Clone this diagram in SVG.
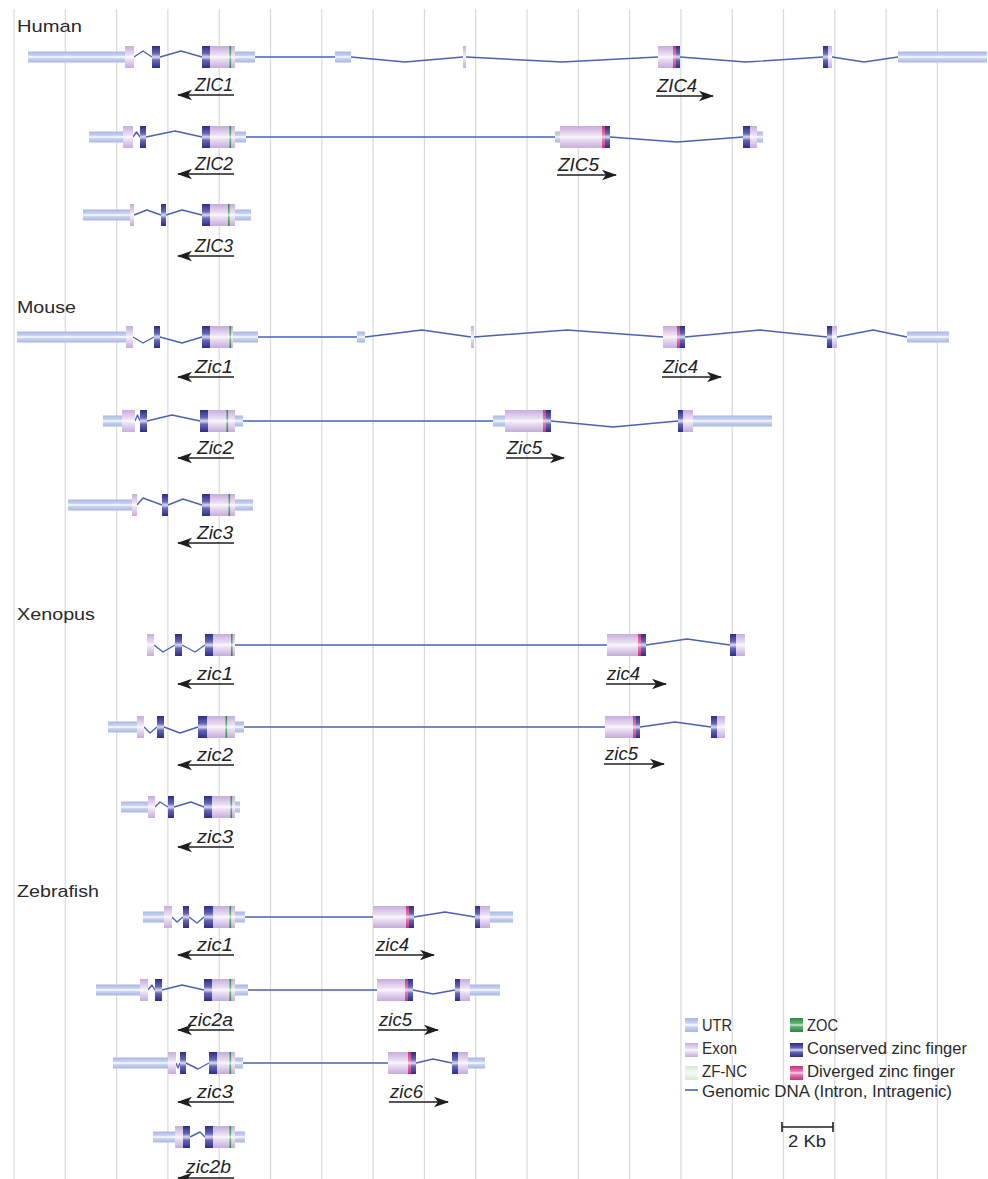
<svg xmlns="http://www.w3.org/2000/svg" width="988" height="1179" viewBox="0 0 988 1179">
<defs>
<linearGradient id="gU" x1="0" y1="0" x2="0" y2="1">
<stop offset="0" stop-color="#a7b6e4"/><stop offset="0.36" stop-color="#c9d3f1"/><stop offset="0.5" stop-color="#ffffff"/><stop offset="0.64" stop-color="#c9d3f1"/><stop offset="1" stop-color="#a7b6e4"/>
</linearGradient>
<linearGradient id="gE" x1="0" y1="0" x2="0" y2="1">
<stop offset="0" stop-color="#c5addb"/><stop offset="0.4" stop-color="#ebe0f3"/><stop offset="0.5" stop-color="#fcf9fd"/><stop offset="0.6" stop-color="#ebe0f3"/><stop offset="1" stop-color="#c5addb"/>
</linearGradient>
<linearGradient id="gC" x1="0" y1="0" x2="0" y2="1">
<stop offset="0" stop-color="#2c2c86"/><stop offset="0.35" stop-color="#6767b6"/><stop offset="0.5" stop-color="#dcdcf2"/><stop offset="0.65" stop-color="#6767b6"/><stop offset="1" stop-color="#2c2c86"/>
</linearGradient>
<linearGradient id="gD" x1="0" y1="0" x2="0" y2="1">
<stop offset="0" stop-color="#c72f7c"/><stop offset="0.38" stop-color="#e47ab0"/><stop offset="0.5" stop-color="#f8d6e8"/><stop offset="0.62" stop-color="#e47ab0"/><stop offset="1" stop-color="#c72f7c"/>
</linearGradient>
<linearGradient id="gZ" x1="0" y1="0" x2="0" y2="1">
<stop offset="0" stop-color="#2a8a3c"/><stop offset="0.38" stop-color="#5fb06e"/><stop offset="0.5" stop-color="#cfead4"/><stop offset="0.62" stop-color="#5fb06e"/><stop offset="1" stop-color="#2a8a3c"/>
</linearGradient>
<linearGradient id="gN" x1="0" y1="0" x2="0" y2="1">
<stop offset="0" stop-color="#d5e8d2"/><stop offset="0.5" stop-color="#f6fbf5"/><stop offset="1" stop-color="#d5e8d2"/>
</linearGradient>
<marker id="ah" viewBox="0 -6 15 12" refX="14" refY="0" markerWidth="15" markerHeight="12" markerUnits="userSpaceOnUse" orient="auto">
<path d="M15,0 L0,-5.2 L4,0 L0,5.2 Z" fill="#1e1e1e"/>
</marker>
</defs>
<style>
.grid line{stroke:#d9d9d9;stroke-width:1.2}
.u{fill:url(#gU)}
.e{fill:url(#gE)}
.c{fill:url(#gC)}
.d{fill:url(#gD)}
.z{fill:url(#gZ)}
.n{fill:url(#gN)}
.i{fill:none;stroke:#4a62b4;stroke-width:1.4;stroke-linejoin:round}
.ar{stroke:#1e1e1e;stroke-width:1.6;marker-end:url(#ah)}
.lb{font-family:"Liberation Sans",Arial,sans-serif;font-style:italic;font-size:18px;fill:#222}
.lbr{font-family:"Liberation Sans",Arial,sans-serif;font-style:italic;font-size:18px;fill:#222;text-anchor:end}
.ttl{font-family:"Liberation Sans",Arial,sans-serif;font-size:17px;fill:#2a2a2a}
.lg{font-family:"Liberation Sans",Arial,sans-serif;font-size:16px;fill:#2a2a2a}
</style>
<rect width="988" height="1179" fill="#ffffff"/>
<g class="grid" id="grid">
<line x1="14" y1="9" x2="14" y2="1179"/>
<line x1="65.3" y1="9" x2="65.3" y2="1179"/>
<line x1="116.6" y1="9" x2="116.6" y2="1179"/>
<line x1="167.9" y1="9" x2="167.9" y2="1179"/>
<line x1="219.2" y1="9" x2="219.2" y2="1179"/>
<line x1="270.5" y1="9" x2="270.5" y2="1179"/>
<line x1="321.8" y1="9" x2="321.8" y2="1179"/>
<line x1="373.1" y1="9" x2="373.1" y2="1179"/>
<line x1="424.4" y1="9" x2="424.4" y2="1179"/>
<line x1="475.7" y1="9" x2="475.7" y2="1179"/>
<line x1="527" y1="9" x2="527" y2="1179"/>
<line x1="578.3" y1="9" x2="578.3" y2="1179"/>
<line x1="629.6" y1="9" x2="629.6" y2="1179"/>
<line x1="680.9" y1="9" x2="680.9" y2="1179"/>
<line x1="732.2" y1="9" x2="732.2" y2="1179"/>
<line x1="783.5" y1="9" x2="783.5" y2="1179"/>
<line x1="834.8" y1="9" x2="834.8" y2="1179"/>
<line x1="886.1" y1="9" x2="886.1" y2="1179"/>
<line x1="937.4" y1="9" x2="937.4" y2="1179"/>
</g>

<g id="titles">
<text class="ttl" x="17" y="32" textLength="65" lengthAdjust="spacingAndGlyphs">Human</text>
<text class="ttl" x="17" y="313" textLength="59" lengthAdjust="spacingAndGlyphs">Mouse</text>
<text class="ttl" x="17" y="620" textLength="78" lengthAdjust="spacingAndGlyphs">Xenopus</text>
<text class="ttl" x="17" y="897" textLength="82" lengthAdjust="spacingAndGlyphs">Zebrafish</text>
</g>

<!-- HUMAN -->
<g id="human-zic1-zic4" transform="translate(0,57)">
<path class="i" d="M134,0 L143,-6 L152,0 M160,0 L181,-6 L202,0 M255,0 H335 M351,0 L405,5 L463,0 M466,0 L562,5 L658,0 M680,0 L746,5 L823,0 M832,0 L864,5 L898,0"/>
<rect class="u" x="28" y="-5.5" width="97" height="11"/>
<rect class="e" x="125" y="-11" width="9" height="22"/>
<rect class="c" x="152" y="-11" width="8" height="22"/>
<rect class="c" x="202" y="-11" width="8" height="22"/>
<rect class="e" x="210" y="-11" width="25" height="22"/>
<rect class="z" x="229.5" y="-11" width="1.6" height="22"/>
<rect class="u" x="235" y="-5.5" width="20" height="11"/>
<rect class="u" x="335" y="-5.5" width="16" height="11"/>
<rect class="e" x="463" y="-11" width="3" height="22"/>
<rect class="e" x="658" y="-11" width="15" height="22"/>
<rect class="d" x="673" y="-11" width="3" height="22"/>
<rect class="c" x="676" y="-11" width="4" height="22"/>
<rect class="c" x="823" y="-11" width="5" height="22"/>
<rect class="e" x="828" y="-11" width="4" height="22"/>
<rect class="u" x="898" y="-5.5" width="89" height="11"/>
<text class="lbr" x="233" y="34" textLength="38" lengthAdjust="spacingAndGlyphs">ZIC1</text>
<line class="ar" x1="234" y1="38" x2="178" y2="38"/>
<text class="lb" x="657" y="35" textLength="40" lengthAdjust="spacingAndGlyphs">ZIC4</text>
<line class="ar" x1="656" y1="39" x2="713" y2="39"/>
</g>

<g id="human-zic2-zic5" transform="translate(0,137)">
<path class="i" d="M133,0 L136.5,-5 L140,0 M146,0 L175,-6 L202,0 M245,0 H555 M610,0 L677,5 L743,0"/>
<rect class="u" x="89" y="-5.5" width="34" height="11"/>
<rect class="e" x="123" y="-11" width="10" height="22"/>
<rect class="c" x="140" y="-11" width="6" height="22"/>
<rect class="c" x="202" y="-11" width="8" height="22"/>
<rect class="e" x="210" y="-11" width="25" height="22"/>
<rect class="z" x="229.5" y="-11" width="1.6" height="22"/>
<rect class="u" x="235" y="-5.5" width="11" height="11"/>
<rect class="u" x="555" y="-5.5" width="6" height="11"/>
<rect class="e" x="560" y="-11" width="42" height="22"/>
<rect class="d" x="602" y="-11" width="3" height="22"/>
<rect class="c" x="605" y="-11" width="5" height="22"/>
<rect class="c" x="743" y="-11" width="7" height="22"/>
<rect class="e" x="750" y="-11" width="7" height="22"/>
<rect class="u" x="757" y="-5.5" width="6" height="11"/>
<text class="lbr" x="233" y="33" textLength="38" lengthAdjust="spacingAndGlyphs">ZIC2</text>
<line class="ar" x1="234" y1="37" x2="178" y2="37"/>
<text class="lb" x="558" y="34" textLength="41" lengthAdjust="spacingAndGlyphs">ZIC5</text>
<line class="ar" x1="557" y1="38" x2="616" y2="38"/>
</g>

<g id="human-zic3" transform="translate(0,215)">
<path class="i" d="M134,0 L147,-5 L161,0 M166,0 L182,-5 L202,0"/>
<rect class="u" x="83" y="-5.5" width="48" height="11"/>
<rect class="e" x="130" y="-11" width="4" height="22"/>
<rect class="c" x="161" y="-11" width="5" height="22"/>
<rect class="c" x="202" y="-11" width="8" height="22"/>
<rect class="e" x="210" y="-11" width="25" height="22"/>
<rect class="z" x="228" y="-11" width="1.6" height="22"/>
<rect class="u" x="235" y="-5.5" width="16" height="11"/>
<text class="lbr" x="233" y="37" textLength="38" lengthAdjust="spacingAndGlyphs">ZIC3</text>
<line class="ar" x1="234" y1="41" x2="178" y2="41"/>
</g>

<!-- MOUSE -->
<g id="mouse-zic1-zic4" transform="translate(0,337)">
<path class="i" d="M133,0 L143,6 L154,0 M160,0 L182,6 L202,0 M258,0 H357 M365,0 L422,-7 L471,0 M474,0 L567,-7 L663,0 M685,0 L760,-7 L827,0 M837,0 L873,-7 L907,0"/>
<rect class="u" x="17" y="-5.5" width="110" height="11"/>
<rect class="e" x="126" y="-11" width="7" height="22"/>
<rect class="c" x="154" y="-11" width="6" height="22"/>
<rect class="c" x="202" y="-11" width="8" height="22"/>
<rect class="e" x="210" y="-11" width="23" height="22"/>
<rect class="z" x="229.5" y="-11" width="1.6" height="22"/>
<rect class="u" x="233" y="-5.5" width="25" height="11"/>
<rect class="u" x="357" y="-5.5" width="8" height="11"/>
<rect class="e" x="471" y="-11" width="3" height="22"/>
<rect class="e" x="663" y="-11" width="14" height="22"/>
<rect class="d" x="677" y="-11" width="3" height="22"/>
<rect class="c" x="680" y="-11" width="5" height="22"/>
<rect class="c" x="827" y="-11" width="5" height="22"/>
<rect class="e" x="832" y="-11" width="5" height="22"/>
<rect class="u" x="907" y="-5.5" width="42" height="11"/>
<text class="lbr" x="233" y="35.5" textLength="38" lengthAdjust="spacingAndGlyphs">Zic1</text>
<line class="ar" x1="234" y1="40" x2="178" y2="40"/>
<text class="lb" x="663" y="35.5" textLength="35" lengthAdjust="spacingAndGlyphs">Zic4</text>
<line class="ar" x1="662" y1="40" x2="721" y2="40"/>
</g>

<g id="mouse-zic2-zic5" transform="translate(0,421)">
<path class="i" d="M135,0 L137.5,-6 L140,0 M147,0 L172,-6 L200,0 M243,0 H493 M551,0 L613,6 L678,0"/>
<rect class="u" x="103" y="-5.5" width="20" height="11"/>
<rect class="e" x="122" y="-11" width="13" height="22"/>
<rect class="c" x="140" y="-11" width="7" height="22"/>
<rect class="c" x="200" y="-11" width="8" height="22"/>
<rect class="e" x="208" y="-11" width="27" height="22"/>
<rect class="z" x="226.5" y="-11" width="1.6" height="22"/>
<rect class="u" x="235" y="-5.5" width="8" height="11"/>
<rect class="u" x="493" y="-5.5" width="13" height="11"/>
<rect class="e" x="505" y="-11" width="38" height="22"/>
<rect class="d" x="543" y="-11" width="3" height="22"/>
<rect class="c" x="546" y="-11" width="5" height="22"/>
<rect class="c" x="678" y="-11" width="5" height="22"/>
<rect class="e" x="683" y="-11" width="10" height="22"/>
<rect class="u" x="693" y="-5.5" width="79" height="11"/>
<text class="lbr" x="233" y="32.5" textLength="36" lengthAdjust="spacingAndGlyphs">Zic2</text>
<line class="ar" x1="234" y1="37" x2="178" y2="37"/>
<text class="lb" x="507" y="32.5" textLength="35" lengthAdjust="spacingAndGlyphs">Zic5</text>
<line class="ar" x1="506" y1="37" x2="564" y2="37"/>
</g>

<g id="mouse-zic3" transform="translate(0,505)">
<path class="i" d="M137,0 L143,-7 L162,0 M168,0 L183,-6 L202,0"/>
<rect class="u" x="68" y="-5.5" width="64" height="11"/>
<rect class="e" x="132" y="-11" width="5" height="22"/>
<rect class="c" x="162" y="-11" width="6" height="22"/>
<rect class="c" x="202" y="-11" width="8" height="22"/>
<rect class="e" x="210" y="-11" width="25" height="22"/>
<rect class="z" x="228.5" y="-11" width="1.6" height="22"/>
<rect class="u" x="235" y="-5.5" width="18" height="11"/>
<text class="lbr" x="233" y="33.5" textLength="36" lengthAdjust="spacingAndGlyphs">Zic3</text>
<line class="ar" x1="234" y1="38" x2="178" y2="38"/>
</g>

<!-- XENOPUS -->
<g id="xenopus-zic1-zic4" transform="translate(0,645)">
<path class="i" d="M154,0 L163,7 L175,0 M182,0 L195,7 L205,0 M235,0 H607 M646,0 L687,-6 L730,0"/>
<rect class="e" x="147" y="-11" width="7" height="22"/>
<rect class="c" x="175" y="-11" width="7" height="22"/>
<rect class="c" x="205" y="-11" width="8" height="22"/>
<rect class="e" x="213" y="-11" width="22" height="22"/>
<rect class="z" x="231" y="-11" width="1.6" height="22"/>
<rect class="e" x="607" y="-11" width="31" height="22"/>
<rect class="d" x="638" y="-11" width="3" height="22"/>
<rect class="c" x="641" y="-11" width="5" height="22"/>
<rect class="c" x="730" y="-11" width="6" height="22"/>
<rect class="e" x="736" y="-11" width="9" height="22"/>
<text class="lbr" x="233" y="34.5" textLength="36" lengthAdjust="spacingAndGlyphs">zic1</text>
<line class="ar" x1="234" y1="39" x2="178" y2="39"/>
<text class="lb" x="607" y="34.5" textLength="33" lengthAdjust="spacingAndGlyphs">zic4</text>
<line class="ar" x1="606" y1="39" x2="666" y2="39"/>
</g>

<g id="xenopus-zic2-zic5" transform="translate(0,727)">
<path class="i" d="M144,0 L150,6 L157,0 M164,0 L180,6 L198,0 M244,0 H605 M640,0 L675,-5 L711,0"/>
<rect class="u" x="108" y="-5.5" width="30" height="11"/>
<rect class="e" x="137" y="-11" width="7" height="22"/>
<rect class="c" x="157" y="-11" width="7" height="22"/>
<rect class="c" x="198" y="-11" width="9" height="22"/>
<rect class="e" x="207" y="-11" width="28" height="22"/>
<rect class="z" x="225.5" y="-11" width="1.6" height="22"/>
<rect class="u" x="235" y="-5.5" width="9" height="11"/>
<rect class="e" x="605" y="-11" width="28" height="22"/>
<rect class="d" x="633" y="-11" width="3" height="22"/>
<rect class="c" x="636" y="-11" width="4" height="22"/>
<rect class="c" x="711" y="-11" width="6" height="22"/>
<rect class="e" x="717" y="-11" width="8" height="22"/>
<text class="lbr" x="233" y="33.5" textLength="36" lengthAdjust="spacingAndGlyphs">zic2</text>
<line class="ar" x1="234" y1="38" x2="178" y2="38"/>
<text class="lb" x="605" y="32.5" textLength="33" lengthAdjust="spacingAndGlyphs">zic5</text>
<line class="ar" x1="604" y1="37" x2="664" y2="37"/>
</g>

<g id="xenopus-zic3" transform="translate(0,807)">
<path class="i" d="M155,0 L160,-5 L168,0 M174,0 L191,-5 L204,0"/>
<rect class="u" x="121" y="-5.5" width="28" height="11"/>
<rect class="e" x="148" y="-11" width="7" height="22"/>
<rect class="c" x="168" y="-11" width="6" height="22"/>
<rect class="c" x="204" y="-11" width="8" height="22"/>
<rect class="e" x="212" y="-11" width="23" height="22"/>
<rect class="z" x="230.5" y="-11" width="1.6" height="22"/>
<rect class="u" x="235" y="-5.5" width="5" height="11"/>
<text class="lbr" x="233" y="35.5" textLength="36" lengthAdjust="spacingAndGlyphs">zic3</text>
<line class="ar" x1="234" y1="40" x2="178" y2="40"/>
</g>

<!-- ZEBRAFISH -->
<g id="zebrafish-zic1-zic4" transform="translate(0,917)">
<path class="i" d="M172,0 L177,5 L183,0 M189,0 L197,6 L204,0 M245,0 H373 M414,0 L445,-5 L475,0"/>
<rect class="u" x="143" y="-5.5" width="22" height="11"/>
<rect class="e" x="164" y="-11" width="8" height="22"/>
<rect class="c" x="183" y="-11" width="6" height="22"/>
<rect class="c" x="204" y="-11" width="9" height="22"/>
<rect class="e" x="213" y="-11" width="22" height="22"/>
<rect class="z" x="229.5" y="-11" width="1.6" height="22"/>
<rect class="u" x="235" y="-5.5" width="10" height="11"/>
<rect class="e" x="373" y="-11" width="33" height="22"/>
<rect class="d" x="406" y="-11" width="3" height="22"/>
<rect class="c" x="409" y="-11" width="5" height="22"/>
<rect class="c" x="475" y="-11" width="5" height="22"/>
<rect class="e" x="480" y="-11" width="10" height="22"/>
<rect class="u" x="490" y="-5.5" width="23" height="11"/>
<text class="lbr" x="233" y="33.5" textLength="36" lengthAdjust="spacingAndGlyphs">zic1</text>
<line class="ar" x1="234" y1="38" x2="178" y2="38"/>
<text class="lb" x="376" y="33.5" textLength="33" lengthAdjust="spacingAndGlyphs">zic4</text>
<line class="ar" x1="375" y1="38" x2="434" y2="38"/>
</g>

<g id="zebrafish-zic2a-zic5" transform="translate(0,990)">
<path class="i" d="M148,0 L152,-5 L155,0 M162,0 L182,-5 L204,0 M248,0 H377 M413,0 L433,4 L455,0"/>
<rect class="u" x="96" y="-5.5" width="45" height="11"/>
<rect class="e" x="140" y="-11" width="8" height="22"/>
<rect class="c" x="155" y="-11" width="7" height="22"/>
<rect class="c" x="204" y="-11" width="8" height="22"/>
<rect class="e" x="212" y="-11" width="23" height="22"/>
<rect class="z" x="229.5" y="-11" width="1.6" height="22"/>
<rect class="u" x="235" y="-5.5" width="13" height="11"/>
<rect class="e" x="377" y="-11" width="28" height="22"/>
<rect class="d" x="405" y="-11" width="3" height="22"/>
<rect class="c" x="408" y="-11" width="5" height="22"/>
<rect class="c" x="455" y="-11" width="5" height="22"/>
<rect class="e" x="460" y="-11" width="10" height="22"/>
<rect class="u" x="470" y="-5.5" width="30" height="11"/>
<text class="lbr" x="233" y="35.5" textLength="45" lengthAdjust="spacingAndGlyphs">zic2a</text>
<line class="ar" x1="234" y1="40" x2="178" y2="40"/>
<text class="lb" x="379" y="35.5" textLength="33" lengthAdjust="spacingAndGlyphs">zic5</text>
<line class="ar" x1="378" y1="40" x2="438" y2="40"/>
</g>

<g id="zebrafish-zic3-zic6" transform="translate(0,1063)">
<path class="i" d="M176,0 L178,5 L180,0 M186,0 L198,6 L209,0 M243,0 H388 M416,0 L433,-4 L452,0"/>
<rect class="u" x="113" y="-5.5" width="56" height="11"/>
<rect class="e" x="168" y="-11" width="8" height="22"/>
<rect class="c" x="180" y="-11" width="6" height="22"/>
<rect class="c" x="209" y="-11" width="8" height="22"/>
<rect class="e" x="217" y="-11" width="18" height="22"/>
<rect class="z" x="229.5" y="-11" width="1.6" height="22"/>
<rect class="u" x="235" y="-5.5" width="8" height="11"/>
<rect class="e" x="388" y="-11" width="20" height="22"/>
<rect class="d" x="408" y="-11" width="3" height="22"/>
<rect class="c" x="411" y="-11" width="5" height="22"/>
<rect class="c" x="452" y="-11" width="6" height="22"/>
<rect class="e" x="458" y="-11" width="10" height="22"/>
<rect class="u" x="468" y="-5.5" width="17" height="11"/>
<text class="lbr" x="233" y="34.5" textLength="36" lengthAdjust="spacingAndGlyphs">zic3</text>
<line class="ar" x1="234" y1="39" x2="178" y2="39"/>
<text class="lb" x="390" y="34.5" textLength="33" lengthAdjust="spacingAndGlyphs">zic6</text>
<line class="ar" x1="389" y1="39" x2="448" y2="39"/>
</g>

<g id="zebrafish-zic2b" transform="translate(0,1137)">
<path class="i" d="M190,0 L200,-5 L205,0"/>
<rect class="u" x="153" y="-5.5" width="23" height="11"/>
<rect class="e" x="175" y="-11" width="8" height="22"/>
<rect class="c" x="183" y="-11" width="7" height="22"/>
<rect class="c" x="205" y="-11" width="8" height="22"/>
<rect class="e" x="213" y="-11" width="22" height="22"/>
<rect class="z" x="229.5" y="-11" width="1.6" height="22"/>
<rect class="u" x="235" y="-5.5" width="10" height="11"/>
<text class="lbr" x="231" y="35.5" textLength="45" lengthAdjust="spacingAndGlyphs">zic2b</text>
<line class="ar" x1="234" y1="41" x2="178" y2="41"/>
</g>

<!-- LEGEND -->
<g id="legend">
<rect class="u" x="685" y="1018" width="13" height="14"/>
<rect class="e" x="685" y="1043" width="13" height="14"/>
<rect class="n" x="685" y="1066" width="13" height="14"/>
<line x1="685" y1="1090" x2="698" y2="1090" stroke="#4a62b4" stroke-width="1.6"/>
<rect class="z" x="790" y="1018" width="13" height="14"/>
<rect class="c" x="790" y="1043" width="13" height="14"/>
<rect class="d" x="790" y="1066" width="13" height="14"/>
<text class="lg" x="702" y="1031" textLength="30" lengthAdjust="spacingAndGlyphs">UTR</text>
<text class="lg" x="702" y="1054" textLength="35" lengthAdjust="spacingAndGlyphs">Exon</text>
<text class="lg" x="702" y="1077" textLength="45" lengthAdjust="spacingAndGlyphs">ZF-NC</text>
<text class="lg" x="702" y="1097" textLength="250" lengthAdjust="spacingAndGlyphs">Genomic DNA (Intron, Intragenic)</text>
<text class="lg" x="807" y="1031" textLength="31" lengthAdjust="spacingAndGlyphs">ZOC</text>
<text class="lg" x="807" y="1054" textLength="160" lengthAdjust="spacingAndGlyphs">Conserved zinc finger</text>
<text class="lg" x="807" y="1077" textLength="148" lengthAdjust="spacingAndGlyphs">Diverged zinc finger</text>
</g>

<g id="scalebar">
<path d="M782,1127 H833 M782,1122 V1132 M833,1122 V1132" stroke="#222" stroke-width="1.6" fill="none"/>
<text class="lg" x="788" y="1147" textLength="38" lengthAdjust="spacingAndGlyphs" style="font-size:17px">2 Kb</text>
</g>
</svg>
